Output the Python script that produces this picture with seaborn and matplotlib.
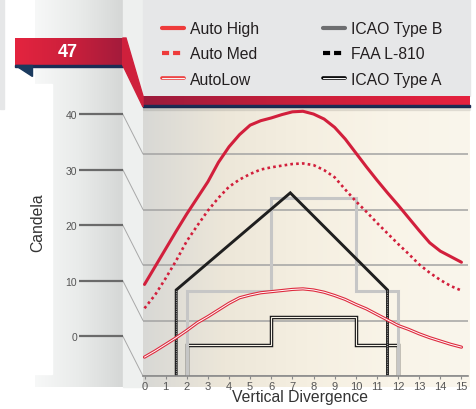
import numpy as np
import pandas as pd
import seaborn as sns
import matplotlib.pyplot as plt
import matplotlib.patheffects as pe
from matplotlib.colors import LinearSegmentedColormap
from matplotlib.lines import Line2D
from matplotlib.patches import Polygon, Rectangle, ConnectionPatch

# Curve readings every half unit of vertical divergence
divergence = [i / 2 for i in range(31)]
auto_high = [16.5, 19.7, 22.9, 26.1, 29.2, 32.1, 35.0, 38.5, 41.3, 43.5, 45.2,
             46.0, 46.5, 47.1, 47.6, 47.7, 47.2, 46.3, 44.8, 42.7, 40.2,
             37.7, 35.3, 33.0, 30.8, 28.5, 26.2, 24.0, 22.5, 21.5, 20.5]
auto_med = [12.2, 14.6, 17.6, 20.8, 24.3, 27.1, 29.8, 32.1, 34.1, 35.4, 36.4,
            37.2, 37.6, 37.9, 38.2, 38.3, 38.0, 37.1, 35.8, 33.6, 31.5,
            29.6, 27.6, 25.7, 23.8, 22.0, 20.1, 18.6, 17.3, 16.2, 15.4]
auto_low = [3.4, 4.5, 5.7, 6.9, 8.2, 9.6, 10.7, 11.9, 13.1, 14.1, 14.6,
            15.0, 15.2, 15.4, 15.6, 15.7, 15.5, 15.1, 14.5, 13.8, 12.9,
            12.1, 11.1, 10.1, 9.1, 8.4, 7.6, 6.9, 6.3, 5.7, 5.2]

# Standard envelopes
icao_b_x = [2, 2, 6, 6, 10, 10, 12, 12]
icao_b_y = [0, 15.4, 15.4, 32, 32, 15.4, 15.4, 0]
faa_x = [1.5, 1.5, 6.9, 11.5, 11.5]
faa_y = [0, 15.5, 33, 15.5, 0]
icao_a_x = [2, 2, 6, 6, 10, 10, 12, 12]
icao_a_y = [0, 5.5, 5.5, 10.6, 10.6, 5.5, 5.5, 0]

x_ticks = list(range(16))
y_ticks = [0, 10, 20, 30, 40]
legend_labels = ['Auto High', 'Auto Med', 'AutoLow', 'ICAO Type B', 'FAA L-810', 'ICAO Type A']

curves = pd.DataFrame({'divergence': divergence, 'high': auto_high,
                       'med': auto_med, 'low': auto_low})

W, H = 477, 410


def rect(x0, y0, x1, y1):
    # pixel box -> figure fraction
    return [x0 / W, 1 - y1 / H, (x1 - x0) / W, (y1 - y0) / H]


def gradient(ax, x0, x1, y0, y1, colors, zorder=0):
    cmap = LinearSegmentedColormap.from_list('g', colors)
    ax.imshow(np.linspace(0, 1, 256)[None, :], cmap=cmap, extent=(x0, x1, y1, y0),
              aspect='auto', zorder=zorder)


sns.set_theme(style='white')
plt.rcParams['font.family'] = ['Liberation Sans', 'DejaVu Sans']

fig = plt.figure(figsize=(W / 100, H / 100), dpi=100)
fig.patch.set_facecolor('white')

# decoration layer in pixel coordinates
deco = fig.add_axes([0, 0, 1, 1], zorder=0)
deco.axis('off')
gradient(deco, 35, 122.7, 0, 388, ['#f7f8f8', '#e9ebea', '#d5d7d6'], zorder=0)
deco.add_patch(Rectangle((0, 85), 52, 290, color='white', zorder=1))
deco.add_patch(Rectangle((0, 0), 4, 110, color='#e6e7e8', zorder=1))
deco.add_patch(Rectangle((122.7, 0), 20.3, 388, color='#eef0ef', zorder=1))
deco.add_patch(Rectangle((143, 0), 327, 97, color='#e6e7e8', zorder=1))
gradient(deco, 143, 470, 108, 388, ['#d8d8d5', '#ede7d9', '#f5efe1', '#f9f4e8', '#faf6ec'], zorder=2)
gradient(deco, 143, 470, 97, 106, ['#9b1b3c', '#cc1f3a', '#e5223f'], zorder=3)
deco.add_patch(Rectangle((143, 106), 327, 2, color='#1b2d55', zorder=4))
deco.add_patch(Rectangle((143, 108), 327, 3, color='black', alpha=0.07, zorder=4))
gradient(deco, 15, 122.7, 39, 66, ['#e4243f', '#cc203c', '#a31b3b'], zorder=3)
deco.add_patch(Rectangle((15, 66), 107.7, 1.5, color='#1b2d55', zorder=4))
deco.add_patch(Polygon([(15, 66), (32, 66), (32, 77)], color='#1b3a5e', zorder=4))
deco.add_patch(Polygon([(122.7, 39), (126, 39), (143, 97), (143, 108), (122.7, 66)],
                       color='#cf203c', zorder=4))
deco.text(68, 52.5, '47', color='white', fontsize=13, fontweight='bold',
          ha='center', va='center', zorder=5)
deco.set_xlim(0, W)
deco.set_ylim(H, 0)

# main plot
ax = fig.add_axes(rect(143, 108, 468, 377), zorder=2)
ax.patch.set_alpha(0)
red = '#d21f3c'

ax.plot(icao_a_x, icao_a_y, color='#1a1a1a', lw=2.5, solid_joinstyle='miter')
ax.plot(icao_a_x, icao_a_y, color='#f8f3e8', lw=0.8, solid_joinstyle='miter')
ax.plot(icao_b_x, icao_b_y, color='#c6c6c6', lw=2.2, solid_joinstyle='miter')
ax.plot(faa_x, faa_y, color='#1f1f1f', lw=2.1, solid_joinstyle='miter')
ax.plot(faa_x[:2], faa_y[:2], color='#9a9a9a', lw=0.8, ls=(0, (1, 1)))
ax.plot(faa_x[-2:], faa_y[-2:], color='#9a9a9a', lw=0.8, ls=(0, (1, 1)))

sns.lineplot(data=curves, x='divergence', y='low', ax=ax, color='#de2a3e', lw=2.3,
             sort=False, estimator=None)
sns.lineplot(data=curves, x='divergence', y='low', ax=ax, color='white', lw=0.7,
             sort=False, estimator=None)
sns.lineplot(data=curves, x='divergence', y='med', ax=ax, color=red, lw=1.9,
             linestyle=(0, (1, 1.2)), sort=False, estimator=None)
sns.lineplot(data=curves, x='divergence', y='high', ax=ax, color=red, lw=2.2,
             sort=False, estimator=None)

ax.set_xlim(-0.071, 15.31)
ax.set_ylim(0, 48.47)
ax.set_xticks(x_ticks)
ax.set_yticks(y_ticks)
ax.set_yticklabels([])
ax.tick_params(axis='x', bottom=True, length=2.5, width=0.8, color='#8a8a8a',
               labelsize=8, labelcolor='#555555', pad=1)
ax.tick_params(axis='y', left=False, length=0)
ax.grid(axis='y', color='#a3a3a3', lw=1.1)
ax.grid(axis='x', visible=False)
ax.set_axisbelow(True)
for s in ['top', 'right', 'left']:
    ax.spines[s].set_visible(False)
ax.spines['bottom'].set_color('#8a8a8a')
ax.spines['bottom'].set_linewidth(1.2)
ax.set_ylabel('')
ax.set_xlabel('Vertical Divergence', fontsize=11.3, color='#333333', va='center')
ax.xaxis.set_label_coords((300 - 143) / 325, (377 - 398) / 269)

# offset candela scale on the left
shift = 40 / 5.55
ax_lab = fig.add_axes(rect(79, 108, 122.7, 377), zorder=2)
ax_lab.patch.set_alpha(0)
ax_lab.set_ylim(-shift, 48.47 - shift)
ax_lab.set_yticks(y_ticks)
ax_lab.set_yticklabels([str(v) for v in y_ticks])
ax_lab.set_xticks([])
ax_lab.tick_params(axis='y', left=False, length=0, pad=1.5, labelsize=7.5,
                   labelcolor='#555555')
ax_lab.grid(axis='y', color='#6a6a6a', lw=1.6)
for s in ax_lab.spines.values():
    s.set_visible(False)
ax_lab.set_ylabel('Candela', fontsize=11.3, color='#333333', va='center')
ax_lab.yaxis.set_label_coords((38 - 79) / 43.7, (377 - 223) / 269)

for v in y_ticks:
    con = ConnectionPatch(xyA=(1, v), coordsA=ax_lab.get_yaxis_transform(),
                          xyB=(0, v), coordsB=ax.get_yaxis_transform(),
                          color='#a8a8a8', lw=0.7)
    fig.add_artist(con)

# legend
red_leg = '#ee3b3b'
handles = [
    Line2D([], [], color=red_leg, lw=3),
    Line2D([], [], color=red_leg, lw=3, ls=(0, (1.7, 0.95))),
    Line2D([], [], color='#f4f4f4', lw=0.8,
           path_effects=[pe.Stroke(linewidth=2.6, foreground=red_leg), pe.Normal()]),
    Line2D([], [], color='#6d6e70', lw=3),
    Line2D([], [], color='black', lw=3, ls=(0, (1.7, 0.95))),
    Line2D([], [], color='#f4f4f4', lw=0.8,
           path_effects=[pe.Stroke(linewidth=2.6, foreground='black'), pe.Normal()]),
]
fig.legend(handles, legend_labels, ncol=2, loc='upper left',
           bbox_to_anchor=(162 / W, 1 - 22 / H), frameon=False,
           borderpad=0, borderaxespad=0, handlelength=1.4, handletextpad=0.4,
           columnspacing=4.05, labelspacing=0.66, fontsize=11.3, labelcolor='#231f20')

fig.savefig('out.png', dpi=100)
